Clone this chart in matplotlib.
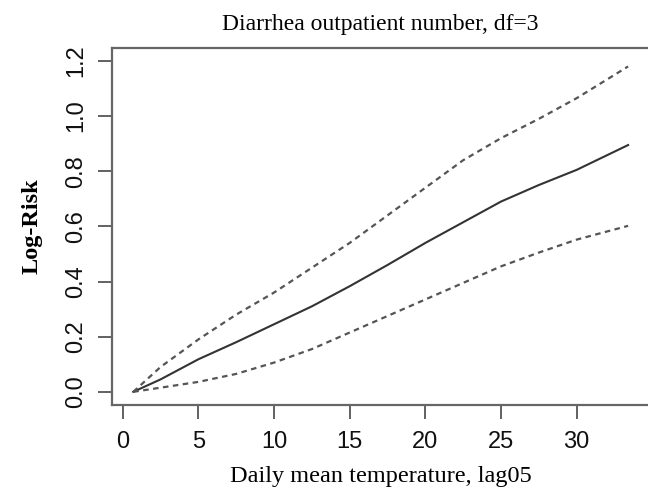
import matplotlib
matplotlib.use("Agg")
import matplotlib.pyplot as plt

# values
temp = [0.7, 2.5, 5, 7.5, 10, 12.5, 15, 17.5, 20, 22.5, 25, 27.5, 30, 33.4]
logrisk = [0, 0.045, 0.118, 0.18, 0.245, 0.31, 0.383, 0.46, 0.54, 0.615, 0.69, 0.75, 0.805, 0.895]
upper = [0, 0.09, 0.19, 0.28, 0.36, 0.45, 0.54, 0.64, 0.74, 0.84, 0.92, 0.99, 1.065, 1.18]
lower = [0, 0.015, 0.036, 0.065, 0.106, 0.155, 0.215, 0.275, 0.335, 0.395, 0.455, 0.505, 0.552, 0.602]

xticks = [0, 5, 10, 15, 20, 25, 30]
yticks = [0.0, 0.2, 0.4, 0.6, 0.8, 1.0, 1.2]

fig = plt.figure(figsize=(6.48, 4.97), dpi=100)
ax = fig.add_axes([0.173, 0.185, 0.829, 0.719])

ax.plot(temp, logrisk, color="#333333", lw=1.5)
ax.plot(temp, upper, color="#555555", lw=1.6, ls=(0, (2.5, 2)))
ax.plot(temp, lower, color="#555555", lw=1.6, ls=(0, (2.5, 2)))

ax.set_xlim(-0.7, 34.8)
ax.set_ylim(-0.048, 1.248)
ax.set_xticks(xticks)
ax.set_yticks(yticks)
ax.set_yticklabels([f"{v:.1f}" for v in yticks], rotation=90, va="center")

for s in ax.spines.values():
    s.set_color("#666666")
    s.set_linewidth(1.6)
ax.tick_params(length=10, width=1.3, color="#555555", labelsize=17, pad=9,
               labelcolor="#111111")
ax.tick_params(axis="y", pad=8)
for lab in ax.get_xticklabels() + ax.get_yticklabels():
    lab.set_family("Liberation Sans")

ax.set_title("Diarrhea outpatient number, df=3", family="Liberation Serif",
             fontsize=17, pad=13)
ax.set_xlabel("Daily mean temperature, lag05", family="Liberation Serif",
              fontsize=17.5, labelpad=9)
ax.set_ylabel("Log-Risk", family="Liberation Serif", fontsize=17.5,
              fontweight="bold", labelpad=16)

fig.savefig("out.png", dpi=100)
